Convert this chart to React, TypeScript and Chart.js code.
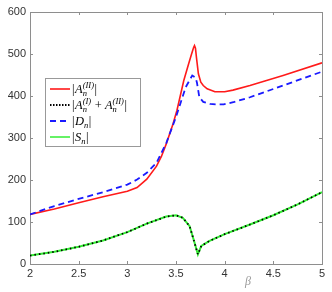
import React, { useEffect, useRef } from 'react';
import { Chart, registerables } from 'chart.js';
Chart.register(...registerables);

// |A_n^(II)|
const redBeta = [2, 2.25, 2.5, 2.75, 3, 3.1, 3.2, 3.3, 3.35, 3.4, 3.47, 3.51, 3.58, 3.63, 3.66, 3.68, 3.69, 3.70, 3.71, 3.73, 3.755, 3.78, 3.82, 3.9, 4.0, 4.085, 4.26, 4.6, 5];
const redVals = [118, 131, 146, 160, 173, 182, 202, 233, 256, 286, 334, 366, 437, 477, 500, 515, 520, 514, 492, 453, 433, 425, 417, 410, 410, 414, 425, 449, 479];

// |D_n|
const blueBeta = [2, 2.25, 2.5, 2.75, 3, 3.1, 3.2, 3.3, 3.4, 3.5, 3.6, 3.667, 3.7, 3.715, 3.74, 3.78, 3.85, 3.91, 3.99, 4.1, 4.26, 4.6, 5];
const blueVals = [118, 138, 155, 171, 189, 201, 217, 241, 288, 350, 421, 449, 444, 432, 397, 386, 381, 380, 380, 386, 397, 425, 458];

// |S_n| and |A_n^(I) + A_n^(II)|
const greenBeta = [2, 2.25, 2.5, 2.75, 3, 3.2, 3.4, 3.5, 3.57, 3.64, 3.69, 3.725, 3.76, 3.845, 4.0, 4.26, 4.5, 4.75, 5];
const greenVals = [20, 29, 41, 56, 76, 96, 113, 116, 110, 90, 51, 23, 43, 55, 71, 94, 116, 142, 171];
const sumVals = [20, 29, 41, 56, 76, 96, 113, 116, 110, 90, 51, 23, 43, 55, 71, 94, 116, 142, 171];

const xTicks = [2, 2.5, 3, 3.5, 4, 4.5, 5];
const yTicks = [0, 100, 200, 300, 400, 500, 600];

const FRAME = '#8e8e8e';
const SERIF = '"Liberation Serif", "DejaVu Serif", serif';

export default function App() {
  const ref = useRef<HTMLCanvasElement>(null);
  useEffect(() => {
    const pts = (xs: number[], ys: number[]) => xs.map((x, i) => ({ x, y: ys[i] }));

    const drawA = (ctx: CanvasRenderingContext2D, letter: string, sup: string | null, x: number, y: number) => {
      ctx.font = `italic 12.5px ${SERIF}`;
      ctx.fillText(letter, x, y);
      x += ctx.measureText(letter).width;
      ctx.font = `italic 8.5px ${SERIF}`;
      ctx.fillText('n', x, y + 3);
      let w = ctx.measureText('n').width;
      if (sup) {
        ctx.fillText(sup, x, y - 5);
        w = Math.max(w, ctx.measureText(sup).width);
      }
      return x + w + 0.5;
    };
    const bar = (ctx: CanvasRenderingContext2D, x: number, y: number) => {
      ctx.font = `12.5px ${SERIF}`;
      ctx.fillText('|', x, y);
      return x + ctx.measureText('|').width + 0.5;
    };

    const plugin = {
      id: 'frameLegend',
      beforeDatasetsDraw(chart: any) {
        const { ctx, chartArea: a, scales } = chart;
        ctx.save();
        ctx.strokeStyle = FRAME;
        ctx.lineWidth = 1;
        ctx.strokeRect(Math.round(a.left) + 0.5, Math.round(a.top) + 0.5, Math.round(a.right - a.left), Math.round(a.bottom - a.top));
        ctx.beginPath();
        xTicks.forEach((t) => {
          const px = Math.round(scales.x.getPixelForValue(t)) + 0.5;
          ctx.moveTo(px, a.bottom); ctx.lineTo(px, a.bottom - 3);
          ctx.moveTo(px, a.top); ctx.lineTo(px, a.top + 3);
        });
        yTicks.forEach((t) => {
          const py = Math.round(scales.y.getPixelForValue(t)) + 0.5;
          ctx.moveTo(a.left, py); ctx.lineTo(a.left + 3, py);
          ctx.moveTo(a.right, py); ctx.lineTo(a.right - 3, py);
        });
        ctx.stroke();
        ctx.restore();
      },
      afterDraw(chart: any) {
        const { ctx } = chart;
        ctx.save();
        // axis label
        ctx.fillStyle = '#9a9a9a';
        ctx.font = `italic 12px ${SERIF}`;
        ctx.textAlign = 'center';
        ctx.textBaseline = 'alphabetic';
        ctx.fillText('β', 248, 285);
        // legend box
        const bx = 45.5, by = 78.5, bw = 95, bh = 68;
        ctx.fillStyle = '#ffffff';
        ctx.fillRect(bx, by, bw, bh);
        ctx.strokeStyle = '#999999';
        ctx.lineWidth = 1;
        ctx.strokeRect(bx, by, bw, bh);
        const rows = [89, 105, 121, 137];
        const samples = [
          { color: '#ff1a1a', width: 1.6, dash: [] as number[] },
          { color: '#000000', width: 2, dash: [1.5, 1.5] },
          { color: '#1a1aff', width: 1.8, dash: [6, 4] },
          { color: '#33ee33', width: 1.5, dash: [] as number[] },
        ];
        samples.forEach((s, i) => {
          ctx.beginPath();
          ctx.strokeStyle = s.color;
          ctx.lineWidth = s.width;
          ctx.setLineDash(s.dash);
          ctx.moveTo(50, rows[i]);
          ctx.lineTo(70, rows[i]);
          ctx.stroke();
        });
        ctx.setLineDash([]);
        ctx.fillStyle = '#000000';
        ctx.textAlign = 'left';
        const tx = 72;
        let x: number;
        let y = rows[0] + 4;
        x = bar(ctx, tx, y); x = drawA(ctx, 'A', '(II)', x, y); bar(ctx, x, y);
        y = rows[1] + 4;
        x = bar(ctx, tx, y); x = drawA(ctx, 'A', '(I)', x, y);
        ctx.font = `12.5px ${SERIF}`; ctx.fillText(' + ', x, y); x += ctx.measureText(' + ').width;
        x = drawA(ctx, 'A', '(II)', x, y); bar(ctx, x, y);
        y = rows[2] + 4;
        x = bar(ctx, tx, y); x = drawA(ctx, 'D', null, x, y); bar(ctx, x, y);
        y = rows[3] + 4;
        x = bar(ctx, tx, y); x = drawA(ctx, 'S', null, x, y); bar(ctx, x, y);
        ctx.restore();
      },
    };

    const tickFont = { family: '"Liberation Sans", Arial, sans-serif', size: 11 };
    const chart = new Chart(ref.current as HTMLCanvasElement, {
      type: 'line',
      data: {
        datasets: [
          { label: '|A_n^(II)|', data: pts(redBeta, redVals), borderColor: '#ff1a1a', borderWidth: 1.6, pointRadius: 0, tension: 0, order: 4 },
          { label: '|A_n^(I)+A_n^(II)|', data: pts(greenBeta, sumVals), borderColor: '#000000', borderWidth: 1.8, borderDash: [1.5, 3], pointRadius: 0, tension: 0, order: 1 },
          { label: '|D_n|', data: pts(blueBeta, blueVals), borderColor: '#1a1aff', borderWidth: 1.8, borderDash: [6, 4], pointRadius: 0, tension: 0, order: 3 },
          { label: '|S_n|', data: pts(greenBeta, greenVals), borderColor: '#33ee33', borderWidth: 2, pointRadius: 0, tension: 0, order: 2 },
        ],
      },
      options: {
        responsive: false,
        animation: false,
        layout: { padding: { top: 12, right: 10, left: 0, bottom: 0 } },
        plugins: { legend: { display: false }, tooltip: { enabled: false } },
        scales: {
          x: {
            type: 'linear', min: 2, max: 5,
            afterBuildTicks: (s: any) => { s.ticks = xTicks.map((v) => ({ value: v })); },
            ticks: { font: tickFont, color: '#333333', padding: 3, maxRotation: 0, autoSkip: false, callback: (v: any) => String(Number(v)) },
            grid: { display: false, drawTicks: false },
            border: { display: false },
            afterFit: (s: any) => { s.height = 28; },
          },
          y: {
            type: 'linear', min: 0, max: 600,
            afterBuildTicks: (s: any) => { s.ticks = yTicks.map((v) => ({ value: v })); },
            ticks: { font: tickFont, color: '#333333', padding: 4, autoSkip: false, callback: (v: any) => String(Number(v)) },
            grid: { display: false, drawTicks: false },
            border: { display: false },
            afterFit: (s: any) => { s.width = 30; },
          },
        },
      },
      plugins: [plugin],
    } as any);
    return () => chart.destroy();
  }, []);
  return (
    <div style={{ position: 'absolute', left: 0, top: 0, width: 332, height: 292, background: '#fff' }}>
      <canvas ref={ref} width={332} height={292} style={{ display: 'block', width: 332, height: 292 }} />
    </div>
  );
}
